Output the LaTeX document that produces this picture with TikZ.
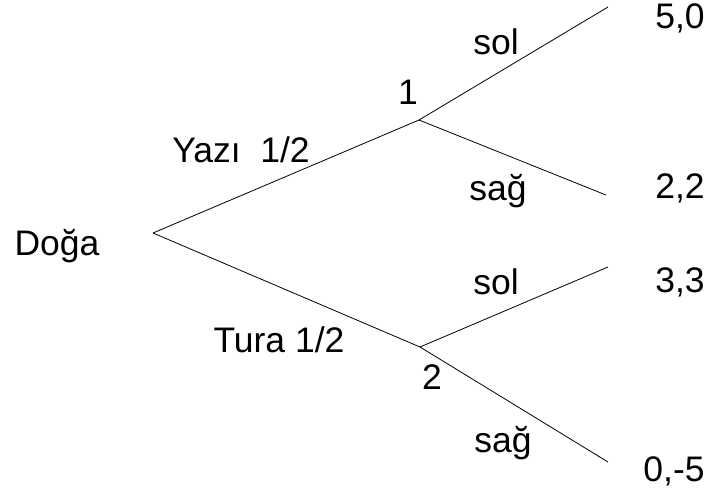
\documentclass[tikz,border=0pt]{standalone}
\usepackage{fontspec}
\setmainfont{Liberation Sans}
\begin{document}
\begin{tikzpicture}[x=1pt,y=-1pt,
  lbl/.style={inner sep=0pt,anchor=base,font=\fontsize{35.5}{42}\selectfont},
  edge/.style={line width=0.8pt,black}]
\useasboundingbox (0,0) rectangle (709,498);
% vertices
\coordinate (root) at (153,233);
\coordinate (n1) at (419,120);
\coordinate (n2) at (420,347);
\coordinate (l1) at (608,7);
\coordinate (l2) at (606,195);
\coordinate (l3) at (608,267);
\coordinate (l4) at (608,462);
% edges
\draw[edge] (root) -- (n1);
\draw[edge] (root) -- (n2);
\draw[edge] (n1) -- (l1);
\draw[edge] (n1) -- (l2);
\draw[edge] (n2) -- (l3);
\draw[edge] (n2) -- (l4);
% labels
\node[lbl] (doga) at (57,255) {Doğa};
\node[lbl] (yazi) at (241,162) {Yazı\ \ 1/2};
\node[lbl] (tura) at (279,352) {Tura 1/2};
\node[lbl] (p1) at (408,104) {1};
\node[lbl] (p2) at (432,389) {2};
\node[lbl] (sol1) at (496,54) {sol};
\node[lbl] (sag1) at (498,200) {sağ};
\node[lbl] (sol2) at (496,294) {sol};
\node[lbl] (sag2) at (503,452) {sağ};
\node[lbl] (u1) at (680,28) {5,0};
\node[lbl] (u2) at (680,198) {2,2};
\node[lbl] (u3) at (680,292) {3,3};
\node[lbl] (u4) at (674,481) {0,-5};
\end{tikzpicture}
\end{document}
